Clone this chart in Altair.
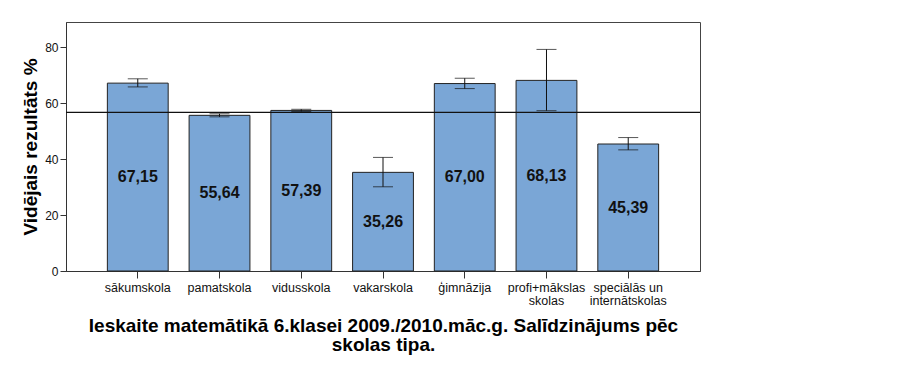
import json
import altair as alt
import pandas as pd

# ---- data ----
categories = ["sākumskola", "pamatskola", "vidusskola", "vakarskola",
              "ģimnāzija", "profi+mākslas skolas", "speciālās un internātskolas"]
means = [67.15, 55.64, 57.39, 35.26, 67.00, 68.13, 45.39]
err_low = [65.8, 55.1, 57.0, 30.1, 65.2, 57.3, 43.3]
err_high = [68.7, 56.2, 57.8, 40.6, 68.9, 79.2, 47.7]
overall_mean = 56.7
y_ticks = [0, 20, 40, 60, 80]
wrapped_labels = {
    "profi+mākslas skolas": ["profi+mākslas", "skolas"],
    "speciālās un internātskolas": ["speciālās un", "internātskolas"],
}
y_title = "Vidējais rezultāts %"
x_title = ["Ieskaite matemātikā 6.klasei 2009./2010.māc.g. Salīdzinājums pēc",
           "skolas tipa."]

FONT = "Liberation Sans, Arial, Helvetica, sans-serif"

df = pd.DataFrame({
    "cat": categories,
    "mean": means,
    "lo": err_low,
    "hi": err_high,
    "label": [f"{m:.2f}".replace(".", ",") for m in means],
})
df["mid"] = df["mean"] / 2
ref = pd.DataFrame({"m": [overall_mean]})

label_expr = ""
for k, v in wrapped_labels.items():
    label_expr += f"datum.label == {json.dumps(k, ensure_ascii=False)} ? {json.dumps(v, ensure_ascii=False)} : "
label_expr += "datum.label"

x_enc = alt.X(
    "cat:N", sort=categories,
    scale=alt.Scale(paddingInner=0.256, paddingOuter=0.506),
    axis=alt.Axis(
        title=x_title, labelAngle=0, labelExpr=label_expr,
        labelFontSize=12.5, labelLineHeight=13, labelPadding=3, labelColor="#111",
        labelFont=FONT, tickSize=7, tickColor="#333", domainColor="#333",
        titleFont=FONT, titleFontSize=19, titleFontWeight="bold", titleColor="#000",
        titleLineHeight=19, titleBaseline="alphabetic", titleY=60, titleX=317,
    ),
)
y_scale = alt.Scale(domain=[0, 89], nice=False, zero=True)
y_axis = alt.Axis(
    title=y_title, values=y_ticks, grid=False, tickSize=6, labelPadding=2,
    labelFontSize=12, labelFont=FONT, labelColor="#111", tickColor="#333", domainColor="#333",
    titleFont=FONT, titleFontSize=19, titleFontWeight="bold", titleColor="#000",
    titleBaseline="alphabetic", titleX=-30,
)

base = alt.Chart(df)
bars = base.mark_bar(color="#7aa6d6", stroke="#222", strokeWidth=1).encode(
    x=x_enc, y=alt.Y("mean:Q", scale=y_scale, axis=y_axis)
)
ref_line = alt.Chart(ref).mark_rule(color="#111", strokeWidth=1.2).encode(
    y=alt.Y("m:Q", scale=y_scale)
)
err_rule = base.mark_rule(color="#111", strokeWidth=1).encode(
    x=alt.X("cat:N", sort=categories), y=alt.Y("lo:Q"), y2="hi:Q"
)
cap_lo = base.mark_tick(color="#111", size=20, thickness=1).encode(
    x=alt.X("cat:N", sort=categories), y=alt.Y("lo:Q")
)
cap_hi = base.mark_tick(color="#111", size=20, thickness=1).encode(
    x=alt.X("cat:N", sort=categories), y=alt.Y("hi:Q")
)
texts = base.mark_text(font=FONT, fontSize=16, fontWeight="bold", color="#111",
                       baseline="middle").encode(
    x=alt.X("cat:N", sort=categories), y=alt.Y("mid:Q"), text="label:N"
)

chart = alt.layer(bars, ref_line, err_rule, cap_lo, cap_hi, texts).properties(
    width=634, height=249,
    autosize=alt.AutoSizeParams(type="none"),
    padding={"left": 66, "top": 22, "right": 223, "bottom": 96},
    background="white",
).configure_view(stroke="#444", strokeWidth=1)

chart.save("out.html", embed_options={"renderer": "svg", "actions": False})
